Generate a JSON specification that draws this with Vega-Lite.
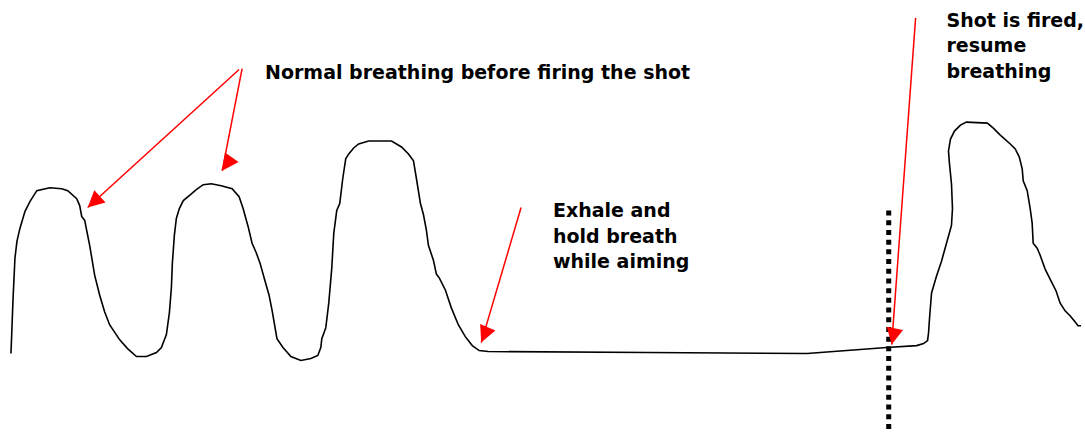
{
  "$schema": "https://vega.github.io/schema/vega-lite/v6.json",
  "width": 1085,
  "height": 432,
  "padding": 0,
  "autosize": {"type": "fit", "contains": "padding"},
  "background": "white",
  "config": {"view": {"stroke": null}},
  "datasets": {
    "curve": [
      {"i": 0, "x": 11, "y": 356},
      {"i": 1, "x": 12, "y": 330},
      {"i": 2, "x": 13, "y": 303},
      {"i": 3, "x": 15, "y": 260},
      {"i": 4, "x": 17, "y": 243},
      {"i": 5, "x": 20, "y": 230},
      {"i": 6, "x": 25, "y": 213},
      {"i": 7, "x": 30, "y": 203},
      {"i": 8, "x": 37, "y": 192},
      {"i": 9, "x": 50, "y": 189},
      {"i": 10, "x": 62, "y": 190},
      {"i": 11, "x": 68, "y": 192},
      {"i": 12, "x": 77, "y": 200},
      {"i": 13, "x": 80, "y": 207},
      {"i": 14, "x": 82, "y": 218},
      {"i": 15, "x": 85, "y": 222},
      {"i": 16, "x": 90, "y": 247},
      {"i": 17, "x": 95, "y": 277},
      {"i": 18, "x": 100, "y": 297},
      {"i": 19, "x": 105, "y": 314},
      {"i": 20, "x": 110, "y": 327},
      {"i": 21, "x": 120, "y": 342},
      {"i": 22, "x": 128, "y": 351},
      {"i": 23, "x": 137, "y": 359},
      {"i": 24, "x": 147, "y": 359},
      {"i": 25, "x": 157, "y": 355},
      {"i": 26, "x": 162, "y": 350},
      {"i": 27, "x": 167, "y": 337},
      {"i": 28, "x": 170, "y": 315},
      {"i": 29, "x": 172, "y": 290},
      {"i": 30, "x": 173, "y": 265},
      {"i": 31, "x": 175, "y": 237},
      {"i": 32, "x": 177, "y": 220},
      {"i": 33, "x": 180, "y": 210},
      {"i": 34, "x": 184, "y": 202},
      {"i": 35, "x": 190, "y": 197},
      {"i": 36, "x": 197, "y": 191},
      {"i": 37, "x": 204, "y": 186},
      {"i": 38, "x": 212, "y": 185},
      {"i": 39, "x": 222, "y": 187},
      {"i": 40, "x": 233, "y": 190},
      {"i": 41, "x": 240, "y": 198},
      {"i": 42, "x": 244, "y": 210},
      {"i": 43, "x": 249, "y": 228},
      {"i": 44, "x": 253, "y": 245},
      {"i": 45, "x": 257, "y": 254},
      {"i": 46, "x": 261, "y": 265},
      {"i": 47, "x": 266, "y": 283},
      {"i": 48, "x": 270, "y": 297},
      {"i": 49, "x": 273, "y": 312},
      {"i": 50, "x": 278, "y": 341},
      {"i": 51, "x": 284, "y": 350},
      {"i": 52, "x": 292, "y": 359},
      {"i": 53, "x": 302, "y": 363},
      {"i": 54, "x": 312, "y": 361},
      {"i": 55, "x": 319, "y": 358},
      {"i": 56, "x": 322, "y": 350},
      {"i": 57, "x": 323, "y": 341},
      {"i": 58, "x": 327, "y": 330},
      {"i": 59, "x": 330, "y": 305},
      {"i": 60, "x": 333, "y": 270},
      {"i": 61, "x": 335, "y": 235},
      {"i": 62, "x": 338, "y": 212},
      {"i": 63, "x": 341, "y": 205},
      {"i": 64, "x": 344, "y": 180},
      {"i": 65, "x": 347, "y": 160},
      {"i": 66, "x": 350, "y": 155},
      {"i": 67, "x": 355, "y": 149},
      {"i": 68, "x": 360, "y": 145},
      {"i": 69, "x": 370, "y": 142},
      {"i": 70, "x": 393, "y": 142},
      {"i": 71, "x": 403, "y": 148},
      {"i": 72, "x": 410, "y": 155},
      {"i": 73, "x": 415, "y": 162},
      {"i": 74, "x": 418, "y": 180},
      {"i": 75, "x": 422, "y": 205},
      {"i": 76, "x": 425, "y": 216},
      {"i": 77, "x": 428, "y": 232},
      {"i": 78, "x": 430, "y": 247},
      {"i": 79, "x": 435, "y": 262},
      {"i": 80, "x": 438, "y": 276},
      {"i": 81, "x": 441, "y": 280},
      {"i": 82, "x": 447, "y": 292},
      {"i": 83, "x": 453, "y": 310},
      {"i": 84, "x": 460, "y": 327},
      {"i": 85, "x": 467, "y": 339},
      {"i": 86, "x": 474, "y": 348},
      {"i": 87, "x": 481, "y": 353},
      {"i": 88, "x": 490, "y": 354},
      {"i": 89, "x": 650, "y": 355},
      {"i": 90, "x": 810, "y": 356},
      {"i": 91, "x": 850, "y": 353},
      {"i": 92, "x": 890, "y": 350},
      {"i": 93, "x": 920, "y": 348},
      {"i": 94, "x": 927, "y": 346},
      {"i": 95, "x": 931, "y": 343},
      {"i": 96, "x": 932, "y": 335},
      {"i": 97, "x": 933, "y": 320},
      {"i": 98, "x": 935, "y": 295},
      {"i": 99, "x": 940, "y": 278},
      {"i": 100, "x": 945, "y": 263},
      {"i": 101, "x": 950, "y": 245},
      {"i": 102, "x": 955, "y": 227},
      {"i": 103, "x": 956, "y": 210},
      {"i": 104, "x": 955, "y": 185},
      {"i": 105, "x": 953, "y": 165},
      {"i": 106, "x": 952, "y": 152},
      {"i": 107, "x": 954, "y": 140},
      {"i": 108, "x": 958, "y": 132},
      {"i": 109, "x": 964, "y": 126},
      {"i": 110, "x": 970, "y": 123},
      {"i": 111, "x": 991, "y": 124},
      {"i": 112, "x": 997, "y": 129},
      {"i": 113, "x": 1004, "y": 136},
      {"i": 114, "x": 1014, "y": 145},
      {"i": 115, "x": 1019, "y": 150},
      {"i": 116, "x": 1023, "y": 158},
      {"i": 117, "x": 1026, "y": 170},
      {"i": 118, "x": 1027, "y": 182},
      {"i": 119, "x": 1031, "y": 192},
      {"i": 120, "x": 1034, "y": 210},
      {"i": 121, "x": 1036, "y": 225},
      {"i": 122, "x": 1037, "y": 245},
      {"i": 123, "x": 1041, "y": 250},
      {"i": 124, "x": 1044, "y": 257},
      {"i": 125, "x": 1049, "y": 271},
      {"i": 126, "x": 1055, "y": 283},
      {"i": 127, "x": 1060, "y": 293},
      {"i": 128, "x": 1064, "y": 305},
      {"i": 129, "x": 1069, "y": 313},
      {"i": 130, "x": 1074, "y": 318},
      {"i": 131, "x": 1079, "y": 324},
      {"i": 132, "x": 1082, "y": 328},
      {"i": 133, "x": 1085, "y": 328}
    ],
    "arrows": [
      {"arrow": "a", "x": 240, "y": 70, "x2": 88, "y2": 209},
      {"arrow": "b", "x": 243, "y": 69, "x2": 223, "y2": 172},
      {"arrow": "c", "x": 523, "y": 209, "x2": 483, "y2": 345},
      {"arrow": "d", "x": 919, "y": 18, "x2": 895, "y2": 347}
    ],
    "labels": [
      {"x": 266, "y": 80, "text": "Normal breathing before firing the shot"},
      {"x": 555, "y": 219, "text": "Exhale and\nhold breath\nwhile aiming"},
      {"x": 950, "y": 27, "text": "Shot is fired,\nresume\nbreathing"}
    ],
    "marker": [
      {"x": 892, "y": 212, "y2": 432}
    ]
  },
  "layer": [
    {
      "data": {"name": "curve"},
      "mark": {"type": "line", "color": "black", "strokeWidth": 1.6, "interpolate": "linear"},
      "encoding": {
        "x": {"field": "x", "type": "quantitative", "scale": {"domain": [0, 1085], "nice": false, "zero": false}, "axis": null},
        "y": {"field": "y", "type": "quantitative", "scale": {"domain": [0, 432], "nice": false, "zero": false, "reverse": true}, "axis": null},
        "order": {"field": "i", "type": "quantitative"}
      }
    },
    {
      "data": {"name": "marker"},
      "mark": {"type": "rule", "color": "black", "strokeWidth": 5, "strokeDash": [5, 4.7], "strokeCap": "butt"},
      "encoding": {
        "x": {"field": "x", "type": "quantitative"},
        "y": {"field": "y", "type": "quantitative"},
        "y2": {"field": "y2"}
      }
    },
    {
      "data": {"name": "arrows"},
      "mark": {"type": "rule", "color": "#ff0000", "strokeWidth": 1.5},
      "encoding": {
        "x": {"field": "x", "type": "quantitative"},
        "y": {"field": "y", "type": "quantitative"},
        "x2": {"field": "x2"},
        "y2": {"field": "y2"}
      }
    },
    {
      "data": {"name": "arrows"},
      "mark": {"type": "point", "shape": "M0,0L-0.5,-1L0.5,-1Z", "filled": true, "color": "#ff0000", "opacity": 1, "size": 1100, "strokeWidth": 0},
      "encoding": {
        "x": {"field": "x2", "type": "quantitative"},
        "y": {"field": "y2", "type": "quantitative"},
        "angle": {"field": "arrow", "type": "nominal", "scale": {"domain": ["a", "b", "c", "d"], "range": [47.55, 11, 16.5, 4.17]}, "legend": null}
      }
    },
    {
      "data": {"name": "labels"},
      "mark": {"type": "text", "font": "DejaVu Sans", "fontWeight": "bold", "fontSize": 19, "color": "black", "align": "left", "baseline": "alphabetic", "lineBreak": "\n", "lineHeight": 25.5},
      "encoding": {
        "x": {"field": "x", "type": "quantitative"},
        "y": {"field": "y", "type": "quantitative"},
        "text": {"field": "text", "type": "nominal"}
      }
    }
  ]
}
